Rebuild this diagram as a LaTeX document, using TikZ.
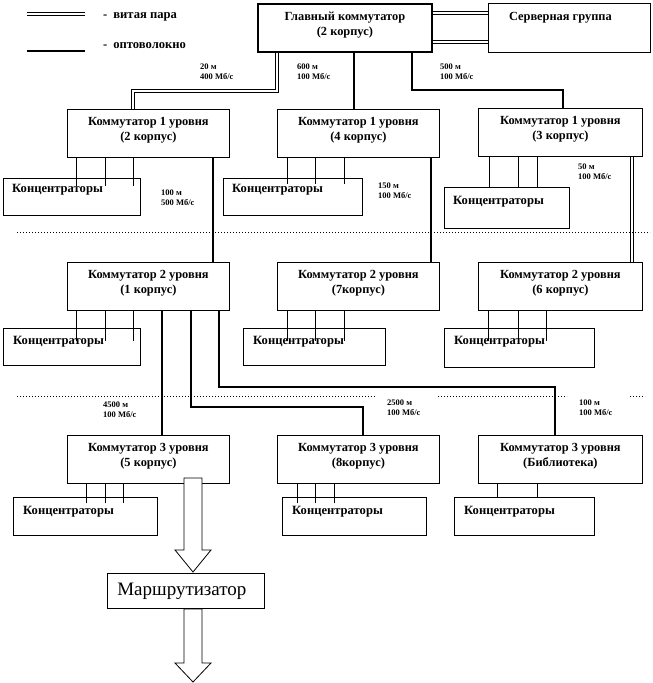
\documentclass[tikz,border=0pt]{standalone}
\usepackage{fontspec}
\setmainfont{Liberation Serif}
\begin{document}
\begin{tikzpicture}[x=1pt,y=-1pt,
  hub/.style={draw, line width=0.8pt, inner sep=0pt, anchor=north west},
  sw/.style={hub, minimum width=162pt, minimum height=48pt},
  txt/.style={font=\bfseries\fontsize{12.4}{15}\selectfont, align=center, inner sep=0pt},
  htxt/.style={font=\bfseries\fontsize{12.6}{14}\selectfont, anchor=west, inner sep=0pt},
  lgtxt/.style={font=\bfseries\fontsize{12.6}{14}\selectfont, anchor=west, inner sep=0pt},
  lbl/.style={font=\bfseries\fontsize{8.5}{10}\selectfont, align=left, anchor=west, inner sep=0pt},
  fiber/.style={line width=2.6pt},
  twisted/.style={double, double distance=2.2pt, line width=0.8pt},
  dots/.style={line width=0.9pt, dash pattern=on 1pt off 2pt},
  conn/.style={line width=0.6pt},
  barrow/.style={line width=0.8pt, fill=white}]
\useasboundingbox (0,0) rectangle (653,683);

% legend
\coordinate (lgA1) at (27,14); \coordinate (lgA2) at (85,14);
\coordinate (lgB1) at (27,51); \coordinate (lgB2) at (85,51);
\draw[twisted] (lgA1) -- (lgA2);
\draw[fiber] (lgB1) -- (lgB2);
\node[lgtxt] (lgtA) at (103,17) {-\hspace{6pt}витая пара};
\node[lgtxt] (lgtB) at (103,46) {-\hspace{6pt}оптоволокно};

% main + server
\node[hub, line width=1.8pt, minimum width=174pt, minimum height=48pt] (main) at (257,3) {};
\node[txt] (mainT) at ([yshift=-22pt]main.north) {Главный коммутатор\\(2 корпус)};
\node[hub, minimum width=162pt, minimum height=49pt] (srv) at (488,3) {};
\node[txt] (srvT) at ([xshift=-9pt,yshift=-15pt]srv.north) {Серверная группа};

% level 1
\node[sw] (l1a) at (67,109) {};
\node[sw] (l1b) at (277,109) {};
\node[sw, minimum width=164pt] (l1c) at (478,108) {};
\node[txt] at ([yshift=-21pt]l1a.north) {Коммутатор 1 уровня\\(2 корпус)};
\node[txt] at ([yshift=-21pt]l1b.north) {Коммутатор 1 уровня\\(4 корпус)};
\node[txt] at ([yshift=-21pt]l1c.north) {Коммутатор 1 уровня\\(3 корпус)};

\node[hub, minimum width=137pt, minimum height=37pt] (c1a) at (3,178) {};
\node[hub, minimum width=139pt, minimum height=37pt] (c1b) at (223,178) {};
\node[hub, minimum width=125pt, minimum height=41pt] (c1c) at (444,187) {};
\node[htxt] at ([xshift=9pt,yshift=-12pt]c1a.north west) {Концентраторы};
\node[htxt] at ([xshift=9pt,yshift=-12pt]c1b.north west) {Концентраторы};
\node[htxt] at ([xshift=9pt,yshift=-15pt]c1c.north west) {Концентраторы};

\foreach \dx in {9,38,66} \draw[conn] ([xshift=\dx pt]l1a.south west) -- ++(0,28);
\foreach \dx in {10,38,67} \draw[conn] ([xshift=\dx pt]l1b.south west) -- ++(0,26);
\foreach \dx in {11,40,59} \draw[conn] ([xshift=\dx pt]l1c.south west) -- ++(0,30);

% level 2
\node[sw] (l2a) at (67,262) {};
\node[sw] (l2b) at (277,262) {};
\node[sw, minimum width=164pt] (l2c) at (478,262) {};
\node[txt] at ([yshift=-21pt]l2a.north) {Коммутатор 2 уровня\\(1 корпус)};
\node[txt] at ([yshift=-21pt]l2b.north) {Коммутатор 2 уровня\\(7корпус)};
\node[txt] at ([yshift=-21pt]l2c.north) {Коммутатор 2 уровня\\(6 корпус)};

\node[hub, minimum width=137pt, minimum height=37pt] (c2a) at (3,328) {};
\node[hub, minimum width=142pt, minimum height=37pt] (c2b) at (243,328) {};
\node[hub, minimum width=150pt, minimum height=39pt] (c2c) at (444,328) {};
\node[htxt] at ([xshift=10pt,yshift=-14pt]c2a.north west) {Концентраторы};
\node[htxt] at ([xshift=10pt,yshift=-14pt]c2b.north west) {Концентраторы};
\node[htxt] at ([xshift=10pt,yshift=-14pt]c2c.north west) {Концентраторы};

\foreach \dx in {9,38,66} \draw[conn] ([xshift=\dx pt]l2a.south west) -- ++(0,30);
\foreach \dx in {10,38,67} \draw[conn] ([xshift=\dx pt]l2b.south west) -- ++(0,30);
\foreach \dx in {10,40,68} \draw[conn] ([xshift=\dx pt]l2c.south west) -- ++(0,30);

% level 3
\node[sw] (l3a) at (67,435) {};
\node[sw] (l3b) at (277,435) {};
\node[sw, minimum width=164pt] (l3c) at (478,435) {};
\node[txt] at ([yshift=-21pt]l3a.north) {Коммутатор 3 уровня\\(5 корпус)};
\node[txt] at ([yshift=-21pt]l3b.north) {Коммутатор 3 уровня\\(8корпус)};
\node[txt] at ([yshift=-21pt]l3c.north) {Коммутатор 3 уровня\\(Библиотека)};

\node[hub, minimum width=144pt, minimum height=38pt] (c3a) at (13,497) {};
\node[hub, minimum width=144pt, minimum height=38pt] (c3b) at (282,497) {};
\node[hub, minimum width=140pt, minimum height=38pt] (c3c) at (454,497) {};
\node[htxt] at ([xshift=10pt,yshift=-15pt]c3a.north west) {Концентраторы};
\node[htxt] at ([xshift=10pt,yshift=-15pt]c3b.north west) {Концентраторы};
\node[htxt] at ([xshift=10pt,yshift=-15pt]c3c.north west) {Концентраторы};

\foreach \dx in {19,38,56} \draw[conn] ([xshift=\dx pt]l3a.south west) -- ++(0,19);
\foreach \dx in {20,38,57} \draw[conn] ([xshift=\dx pt]l3b.south west) -- ++(0,19);
\foreach \dx in {19,59} \draw[conn] ([xshift=\dx pt]l3c.south west) -- ++(0,14);

% trunk links
\draw[twisted] ([xshift=20pt]main.south west) -- ++(0,38) -| ([xshift=66pt]l1a.north west);
\draw[fiber] ([xshift=97pt]main.south west) -- ([xshift=77pt]l1b.north west);
\draw[fiber] ([xshift=155pt]main.south west) -- ++(0,37) -| ([xshift=85pt]l1c.north west);
\draw[twisted] ([yshift=-10pt]main.north east) -- ([yshift=-10pt]srv.north west);
\draw[twisted] ([yshift=-39pt]main.north east) -- ([yshift=-39pt]srv.north west);

\draw[fiber] ([xshift=146pt]l1a.south west) -- ([xshift=146pt]l2a.north west);
\draw[fiber] ([xshift=154pt]l1b.south west) -- ([xshift=154pt]l2b.north west);
\draw[twisted] ([xshift=154pt]l1c.south west) -- ([xshift=154pt]l2c.north west);

\draw[fiber] ([xshift=95pt]l2a.south west) -- ([xshift=95pt]l3a.north west);
\draw[fiber] ([xshift=124pt]l2a.south west) -- ++(0,96) -| ([xshift=86pt]l3b.north west);
\draw[fiber] ([xshift=152pt]l2a.south west) -- ++(0,76) -| ([xshift=77pt]l3c.north west);

% labels
\node[lbl] at (200,72) {20 м\\400 Мб/с};
\node[lbl] at (297,72) {600 м\\100 Мб/с};
\node[lbl] at (440,72) {500 м\\100 Мб/с};
\node[lbl] at (161,198) {100 м\\500 Мб/с};
\node[lbl] at (378,191) {150 м\\100 Мб/с};
\node[lbl] at (578,172) {50 м\\100 Мб/с};
\node[lbl] at (103,410) {4500 м\\100 Мб/с};
\node[lbl] at (387,408) {2500 м\\100 Мб/с};
\node[lbl] at (579,408) {100 м\\100 Мб/с};

% dotted separators
\coordinate (d1a) at (17,232); \coordinate (d1b) at (650,232);
\coordinate (d2a) at (17,396); \coordinate (d2b) at (375,396);
\coordinate (d3a) at (438,396); \coordinate (d3b) at (567,396);
\coordinate (d4a) at (630,396); \coordinate (d4b) at (645,396);
\draw[dots] (d1a) -- (d1b);
\draw[dots] (d2a) -- (d2b);
\draw[dots] (d3a) -- (d3b);
\draw[dots] (d4a) -- (d4b);

% router
\node[hub, minimum width=157pt, minimum height=35pt] (rt) at (107,573) {};
\node[font=\fontsize{19}{22}\selectfont, inner sep=0pt] at ([xshift=-4pt]rt.center) {Маршрутизатор};
\draw[barrow] (184,478) -- (202,478) -- (202,550) -- (211,550) -- (193,572) -- (175,550) -- (184,550) -- cycle;
\draw[barrow] (184,609) -- (202,609) -- (202,663) -- (211,663) -- (193,682) -- (175,663) -- (184,663) -- cycle;
\end{tikzpicture}
\end{document}
